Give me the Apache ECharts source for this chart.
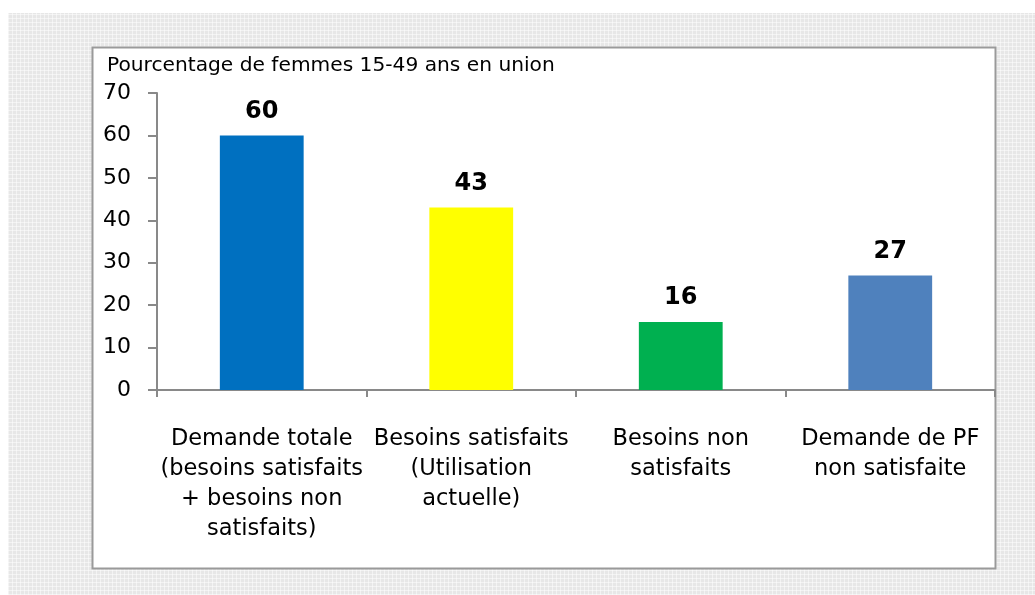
<!DOCTYPE html>
<html>
<head>
<meta charset="utf-8">
<style>
  html, body { margin: 0; padding: 0; background: #fff; }
  #backdrop {
    position: absolute; left: 8px; top: 13px; right: 0; bottom: 0;
    background-color: #e7e7e7;
    background-image:
      repeating-linear-gradient(0deg, rgba(255,255,255,0.5) 0 1px, transparent 1px 4px),
      repeating-linear-gradient(90deg, rgba(255,255,255,0.5) 0 1px, transparent 1px 4px);
  }
  #chart { position: absolute; left: 0; top: 0; width: 1035px; height: 595px; }
</style>
<script src="https://cdn.jsdelivr.net/npm/echarts@6/dist/echarts.min.js"></script>
</head>
<body>
<div id="backdrop"></div>
<div id="chart"></div>
<script>
// Demande de planification familiale chez les femmes en union
const categories = [
  'Demande totale\n(besoins satisfaits\n+ besoins non\nsatisfaits)',
  'Besoins satisfaits\n(Utilisation\nactuelle)',
  'Besoins non\nsatisfaits',
  'Demande de PF\nnon satisfaite'
];
const values = [60, 43, 16, 27];
const barColors = ['#0070C0', '#FFFF00', '#00B050', '#4F81BD'];
const axisTitle = 'Pourcentage de femmes 15-49 ans en union';

const chart = echarts.init(document.getElementById('chart'), null, { renderer: 'canvas' });
const font = '"DejaVu Sans", Verdana, sans-serif';

chart.setOption({
  animation: false,
  backgroundColor: 'transparent',
  graphic: [
    {
      type: 'rect', z: -10,
      shape: { x: 92.5, y: 47.5, width: 903, height: 521 },
      style: { fill: '#ffffff', stroke: '#9a9a9a', lineWidth: 2 }
    },
    {
      type: 'text', left: 107, top: 56,
      style: { text: axisTitle, font: '20.2px ' + font, fill: '#000' }
    }
  ],
  grid: { left: 157, right: 40, top: 93, bottom: 205, containLabel: false },
  xAxis: {
    type: 'category',
    data: categories,
    axisLine: { lineStyle: { color: '#898989', width: 2 } },
    axisTick: { show: true, length: 7, lineStyle: { color: '#898989', width: 2 } },
    axisLabel: {
      interval: 0, margin: 34, color: '#000',
      fontFamily: font, fontSize: 22.5, lineHeight: 30, align: 'center'
    }
  },
  yAxis: {
    type: 'value', min: 0, max: 70, interval: 10,
    splitLine: { show: false },
    axisLine: { show: true, lineStyle: { color: '#898989', width: 2 } },
    axisTick: { show: true, length: 9, lineStyle: { color: '#898989', width: 2 } },
    axisLabel: { margin: 26, color: '#000', fontFamily: font, fontSize: 22 }
  },
  series: [{
    type: 'bar',
    barWidth: '40%',
    data: values.map((v, i) => ({ value: v, itemStyle: { color: barColors[i] } })),
    label: {
      show: true, position: 'top', distance: 12,
      color: '#000', fontFamily: font, fontWeight: 'bold', fontSize: 24
    }
  }]
});
</script>
</body>
</html>
